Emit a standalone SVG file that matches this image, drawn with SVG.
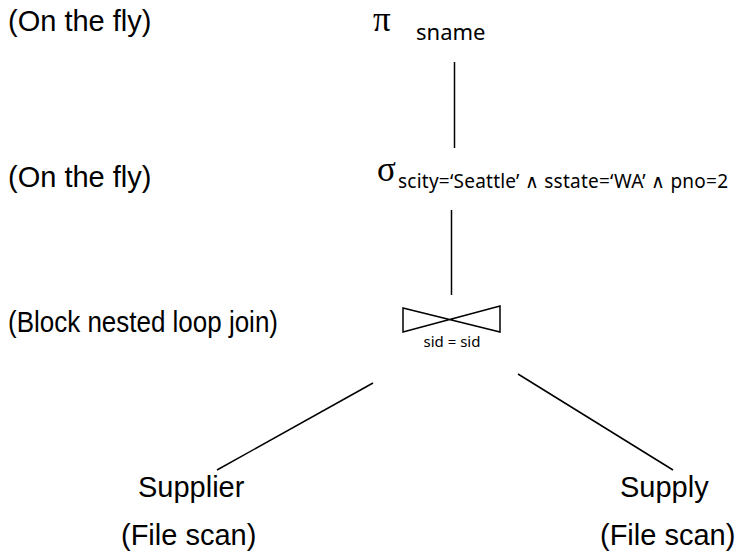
<svg xmlns="http://www.w3.org/2000/svg" width="737" height="554" viewBox="0 0 737 554">
<style>
.lbl{font-family:"Liberation Sans",Arial,sans-serif;font-size:29px;fill:#000}
.greek{font-family:"Liberation Serif","Times New Roman",serif;font-size:35px;fill:#000}
.sub{font-family:"Noto Sans","Open Sans",sans-serif;font-size:19px;fill:#000}
.small{font-family:"Noto Sans","Open Sans",sans-serif;font-size:15px;fill:#000}
.edge{stroke:#000;stroke-width:1.5;fill:none}
</style>
<rect width="737" height="554" fill="#fff"/>
<g id="connectors">
<line class="edge" x1="454.5" y1="62" x2="454.5" y2="148"/>
<line class="edge" x1="451.5" y1="210" x2="451.5" y2="295"/>
<line class="edge" x1="373" y1="383" x2="217" y2="470"/>
<line class="edge" x1="518" y1="374" x2="673" y2="470"/>
</g>
<g id="project">
<text class="greek" x="373" y="31">π</text>
<text class="sub" x="416" y="40" style="font-size:22px">sname</text>
</g>
<g id="select">
<text class="greek" x="377" y="181">σ</text>
<text class="sub" x="398" y="188" textLength="330">scity=‘Seattle’ ∧ sstate=‘WA’ ∧ pno=2</text>
</g>
<g id="join">
<path class="edge" d="M403,308 L500,332 L500,306 L403,332 Z"/>
<text class="small" x="452" y="347" text-anchor="middle">sid = sid</text>
</g>
<g id="supplier">
<text class="lbl" x="138" y="497">Supplier</text>
<text class="lbl" x="121" y="545">(File scan)</text>
</g>
<g id="supply">
<text class="lbl" x="620" y="497">Supply</text>
<text class="lbl" x="600" y="545">(File scan)</text>
</g>
<g id="annotations">
<text class="lbl" x="8" y="31">(On the fly)</text>
<text class="lbl" x="8" y="187">(On the fly)</text>
<text class="lbl" x="8" y="332" textLength="270" lengthAdjust="spacingAndGlyphs">(Block nested loop join)</text>
</g>
</svg>
